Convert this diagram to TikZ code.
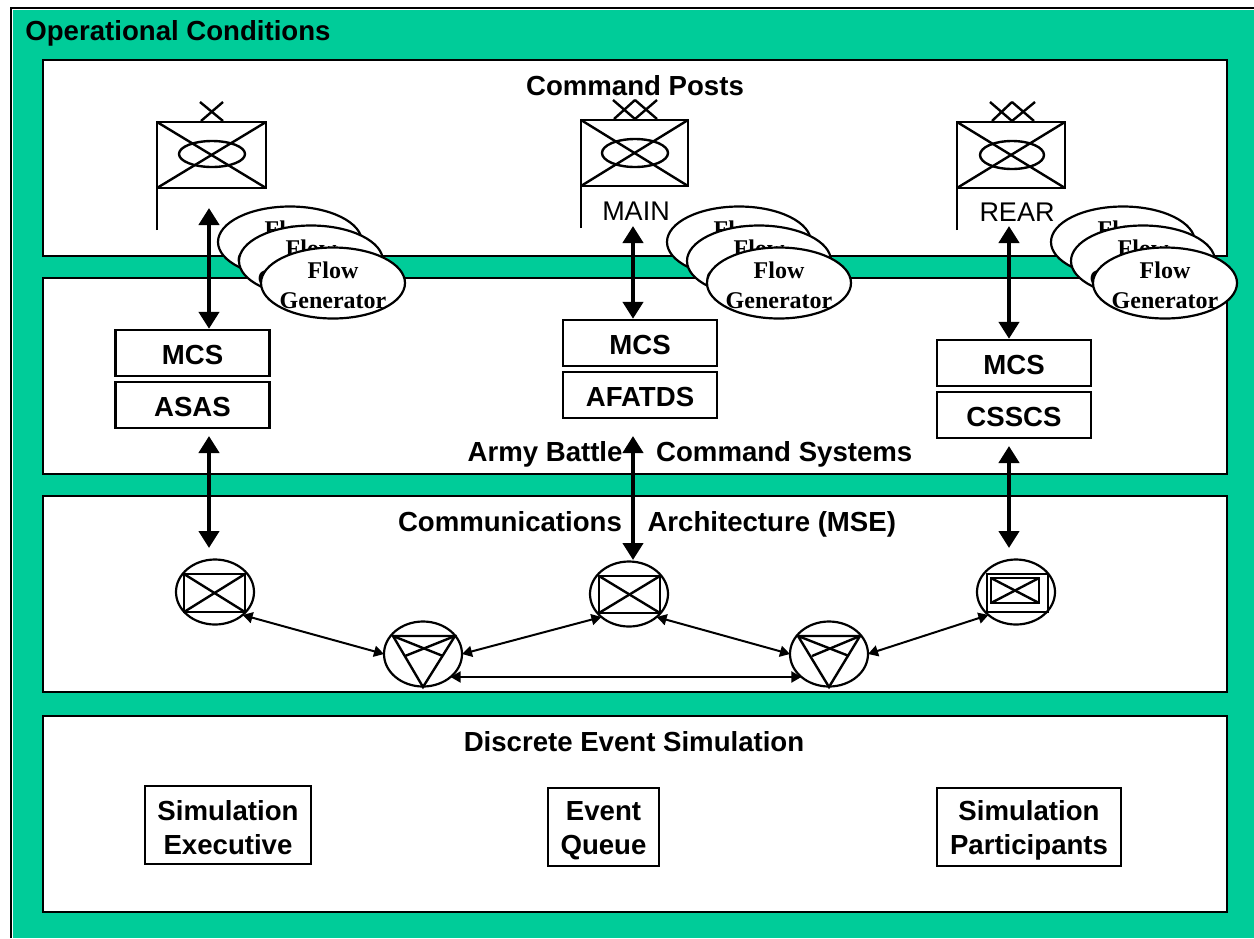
\documentclass[tikz,border=0pt]{standalone}
\usepackage{fontspec}
\setmainfont{Liberation Serif}
\setsansfont{Liberation Sans}
\usetikzlibrary{arrows.meta}
\usetikzlibrary{shapes.geometric}
\definecolor{opgreen}{RGB}{0,204,153}
\newcommand{\twolines}[2]{\rule{0pt}{13pt}#1\\#2}
\tikzstyle{panel}=[draw=black,fill=white,line width=1.2pt]
\tikzstyle{title}=[font=\sffamily\bfseries\fontsize{13.8}{17}\selectfont,inner sep=0,align=center]
\tikzstyle{sysbox}=[title,draw=black,fill=white,line width=1.2pt,minimum width=77pt,minimum height=23pt,execute at begin node=\rule{0pt}{12pt}]
\tikzstyle{simbox}=[title,draw=black,fill=white,line width=1.2pt,minimum height=39pt]
\tikzstyle{flowtext}=[font=\rmfamily\bfseries\fontsize{12}{15}\selectfont,align=center,inner sep=0,yshift=-1pt]
\tikzstyle{flow}=[ellipse,draw=black,fill=white,line width=1.1pt,inner sep=0,outer sep=0,minimum width=72pt,minimum height=35.5pt,label={[flowtext]center:Flow\\Generator}]
\tikzstyle{switch}=[ellipse,draw=black,line width=1.1pt,inner sep=0,outer sep=0,minimum width=39pt,minimum height=32.5pt]
\tikzstyle{symbol}=[line width=1.2pt]
\tikzstyle{tag}=[font=\sffamily\fontsize{13.5}{16}\selectfont,inner sep=0]
\tikzstyle{bigarrow}=[line width=2.2pt,{Triangle[width=10pt,length=8.5pt]}-{Triangle[width=10pt,length=8.5pt]}]
\tikzstyle{link}=[line width=1pt,{Triangle[width=5.5pt,length=5pt]}-{Triangle[width=5.5pt,length=5pt]}]
\begin{document}
\begin{tikzpicture}[x=0.5pt,y=-0.5pt]
		\useasboundingbox (0,0) rectangle (1254,938);
		\fill[opgreen] (13,10) rectangle (1254,938);
		\draw[line width=1.1pt] (11,938) -- (11,8) -- (1254,8);
		\node[title,anchor=west](opcond) at (25,33){Operational Conditions};
% layers
		\draw[panel] (43,60) rectangle (1227,256);
		\draw[panel] (43,278) rectangle (1227,474);
		\draw[panel] (43,496) rectangle (1227,692);
		\draw[panel] (43,716) rectangle (1227,912);

		\node[title](cptitle) at (635,86){Command Posts};
		\node[title](abcs) at (690,454){Army Battle \hspace{13pt}Command Systems};
		\node[title](comms) at (647,524){Communications \hspace{9pt}Architecture (MSE)};
		\node[title](destitle) at (634,742){Discrete Event Simulation};
% command post symbols
		\draw[symbol] (157,230) -- (157,122) -- (266,122) -- (266,188) -- (157,188);
		\draw[symbol] (157,122) -- (266,188);
		\draw[symbol] (157,188) -- (266,122);
		\draw[symbol] (212,154) ellipse (33 and 13);
		\draw[symbol] (200,102) -- (223,121);
		\draw[symbol] (223,102) -- (201,121);

		\draw[symbol] (581,228) -- (581,120) -- (688,120) -- (688,186) -- (581,186);
		\draw[symbol] (581,120) -- (688,186);
		\draw[symbol] (581,186) -- (688,120);
		\draw[symbol] (635,153) ellipse (33 and 14);
		\draw[symbol] (613,100) -- (635,119) -- (657,100);
		\draw[symbol] (635,100) -- (614,119);
		\draw[symbol] (635,100) -- (657,119);

		\draw[symbol] (957,230) -- (957,122) -- (1065,122) -- (1065,188) -- (957,188);
		\draw[symbol] (957,122) -- (1065,188);
		\draw[symbol] (957,188) -- (1065,122);
		\draw[symbol] (1012,155) ellipse (32 and 14);
		\draw[symbol] (990,102) -- (1012,121) -- (1035,102);
		\draw[symbol] (1012,102) -- (992,121);
		\draw[symbol] (1012,102) -- (1034,121);

		\node[tag](main) at (636,211){MAIN};
		\node[tag](rear) at (1017,212){REAR};
% systems
		\node[sysbox](mcsa) at (192.5,353){MCS};
		\node[sysbox](asas) at (192.5,405){ASAS};
		\node[sysbox](mcsb) at (640,343){MCS};
		\node[sysbox](afatds) at (640,395){AFATDS};
		\node[sysbox](mcsc) at (1014,363){MCS};
		\node[sysbox](csscs) at (1014,415){CSSCS};
% simulation
		\node[simbox,minimum width=83pt](simexec) at (228,825){\twolines{Simulation}{Executive}};
		\node[simbox,minimum width=55.5pt](queue) at (603.5,827){\twolines{Event}{Queue}};
		\node[simbox,minimum width=92pt](simpart) at (1029,827){\twolines{Simulation}{Participants}};
% switches
		\node[switch](na) at (215,592){};
		\node[switch](nb) at (629,594){};
		\node[switch](nc) at (1016,592){};
		\node[switch](ta) at (423,654){};
		\node[switch](tb) at (829,654){};

		\draw[symbol] (184,574) rectangle (245,612);
		\draw[symbol] (184,574) -- (245,612);
		\draw[symbol] (184,612) -- (245,574);

		\draw[symbol] (599,576) rectangle (660,613);
		\draw[symbol] (599,576) -- (660,613);
		\draw[symbol] (599,613) -- (660,576);

		\draw[symbol] (987,574) rectangle (1048,612);
		\draw[symbol] (991,578) rectangle (1039,603);
		\draw[symbol] (991,578) -- (1039,603);
		\draw[symbol] (991,603) -- (1039,578);

		\draw[symbol] (393,636) -- (455,636) -- (423,687) -- cycle;
		\draw[symbol] (393,636) -- (443,656);
		\draw[symbol] (455,636) -- (405,656);

		\draw[symbol] (798,636) -- (860,636) -- (829,687) -- cycle;
		\draw[symbol] (798,636) -- (849,656);
		\draw[symbol] (860,636) -- (812,656);
% flow generators
		\node[flow](fa1) at (290,242){};
		\node[flow](fa2) at (311,261){};
		\node[flow](fa3) at (333,283){};

		\node[flow](fb1) at (739,242){};
		\node[flow](fb2) at (759,261){};
		\node[flow](fb3) at (779,283){};

		\node[flow](fc1) at (1123,242){};
		\node[flow](fc2) at (1143,261){};
		\node[flow](fc3) at (1165,283){};
% free arrow ends
		\coordinate (cpa) at (209,208);
		\coordinate (cpb) at (633,226);
		\coordinate (cpc) at (1009,226);
		\coordinate (upa) at (209,436);
		\coordinate (upb) at (633,436);
		\coordinate (upc) at (1009,446);
		\coordinate (lowa) at (209,548);
		\coordinate (lowb) at (633,560);
		\coordinate (lowc) at (1009,548);
% command post to systems
		\draw[bigarrow] (cpa) -- (cpa |- mcsa.north);
		\draw[bigarrow] (cpb) -- (cpb |- mcsb.north);
		\draw[bigarrow] (cpc) -- (cpc |- mcsc.north);
% systems to switches
		\draw[bigarrow] (upa) -- (lowa);
		\draw[bigarrow] (upb) -- (lowb);
		\draw[bigarrow] (upc) -- (lowc);
% switch links
		\draw[link] (na.south east) -- (ta.west);
		\draw[link] (ta.east) -- (nb.south west);
		\draw[link] (nb.south east) -- (tb.west);
		\draw[link] (tb.east) -- (nc.south west);
		\draw[link] (ta.south east) -- (tb.south west);
	\end{tikzpicture}
\end{document}
